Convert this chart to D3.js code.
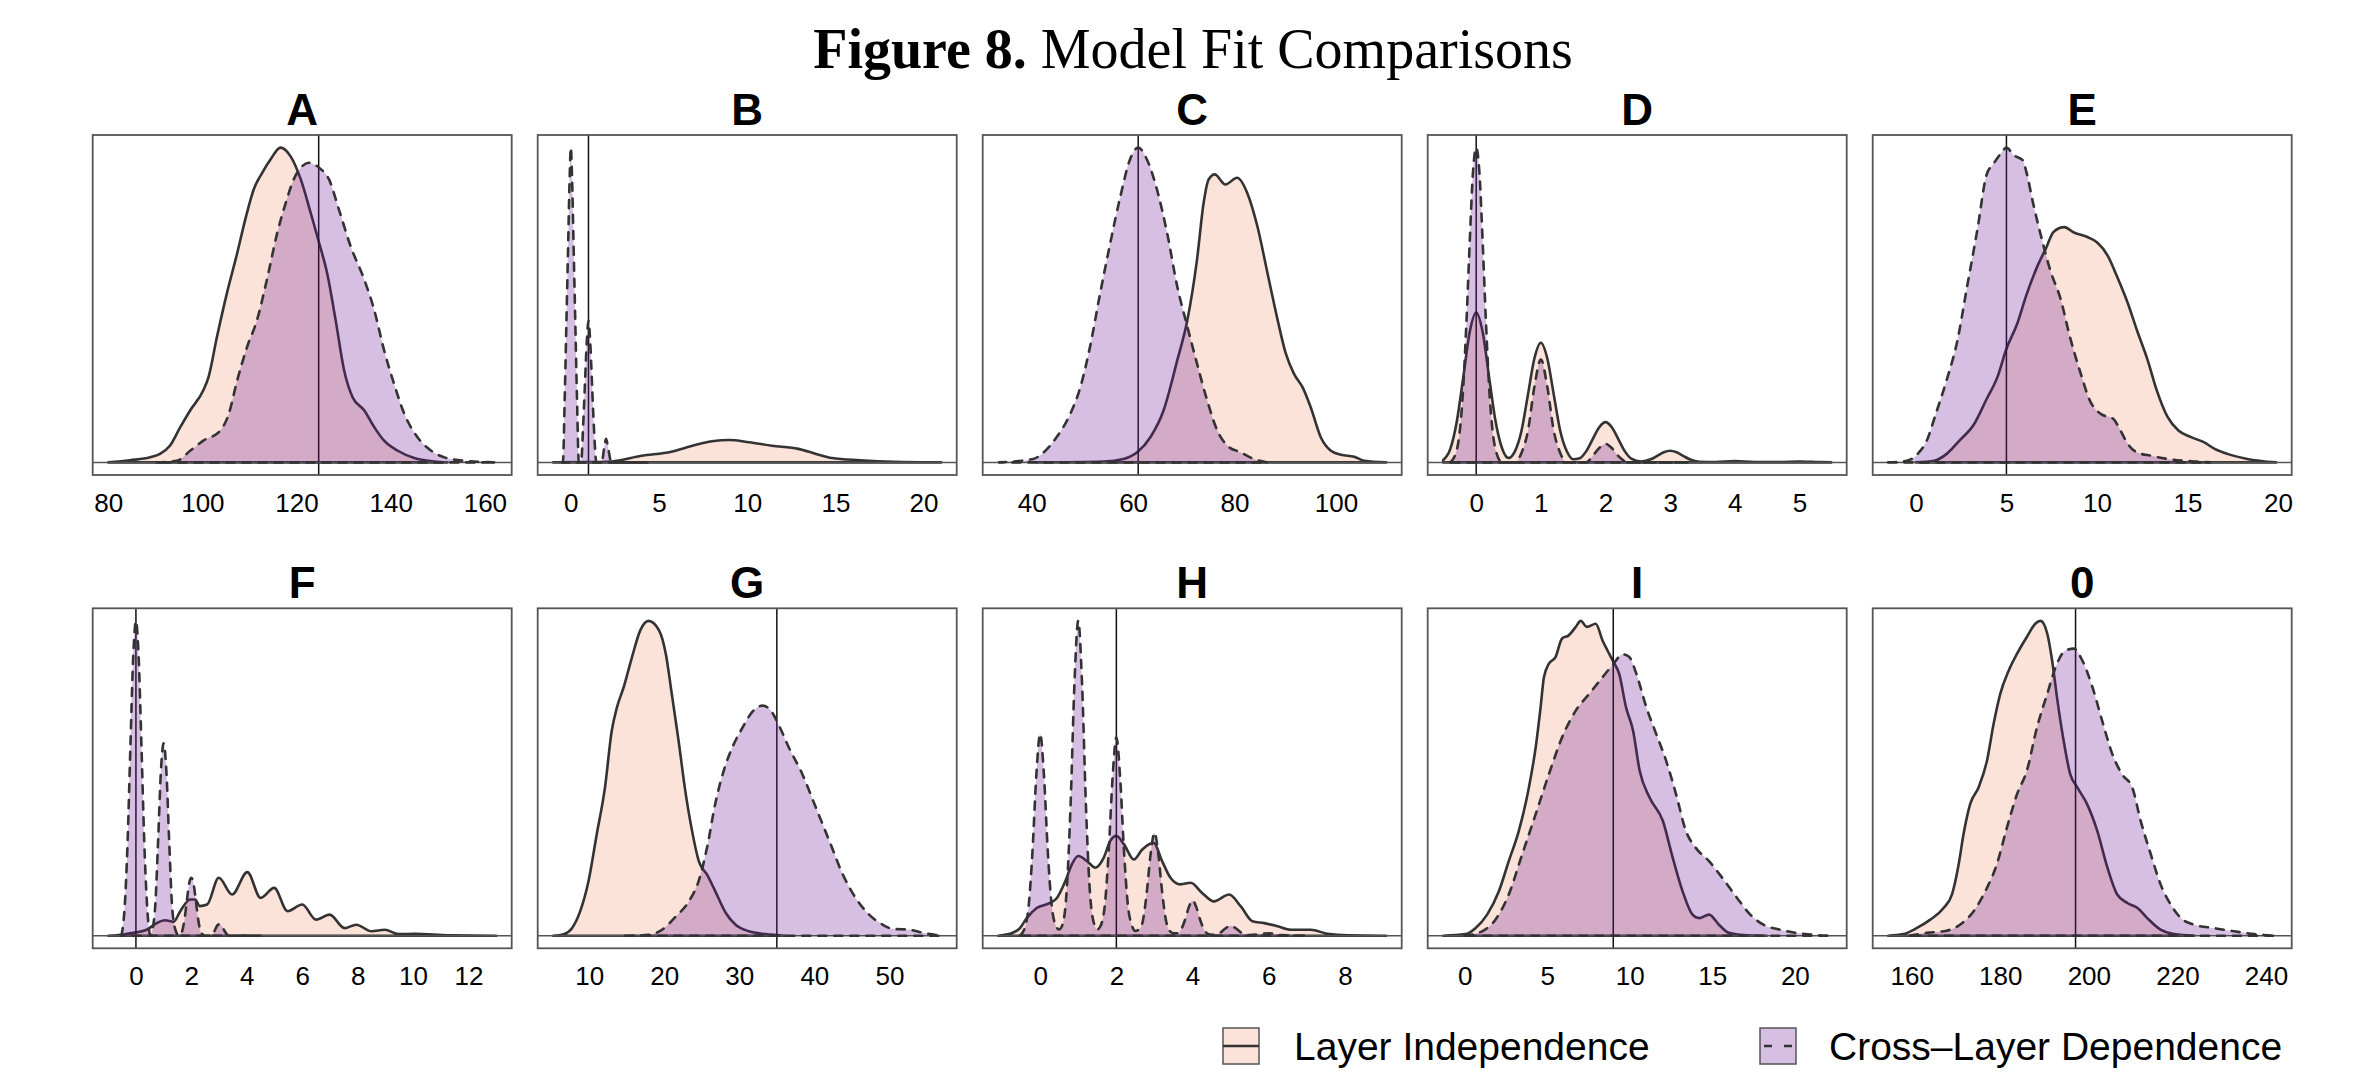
<!DOCTYPE html>
<html>
<head>
<meta charset="utf-8">
<title>Model Fit Comparisons</title>
<script src="https://d3js.org/d3.v7.min.js"></script>
<style>
  body { margin: 0; background: white; }
  svg { display: block; }
  .panel-title { font-family: "Liberation Sans", Arial, sans-serif; font-size: 44px; font-weight: bold; }
  .legend-text { font-family: "Liberation Sans", Arial, sans-serif; font-size: 39px; }
</style>
</head>
<body>
<svg id="fig" width="2365" height="1074"></svg>
<script>
// ---- data: [value, relative density] ----
var panelNames = ["A", "B", "C", "D", "E", "F", "G", "H", "I", "0"];
var truthValues = [124.7, 1, 61, 0, 5, 0, 35, 2, 9, 197];
var tickValues = [
  [80, 100, 120, 140, 160], [0, 5, 10, 15, 20], [40, 60, 80, 100], [0, 1, 2, 3, 4, 5], [0, 5, 10, 15, 20],
  [0, 2, 4, 6, 8, 10, 12], [10, 20, 30, 40, 50], [0, 2, 4, 6, 8], [0, 5, 10, 15, 20], [160, 180, 200, 220, 240]
];
var legendLabels = ["Layer Independence", "Cross\u2013Layer Dependence"];

var indA = [[80,0],[84.6,0.007],[88.9,0.016],[91,0.027],[93.1,0.053],[95.3,0.112],[97.4,0.165],[100.2,0.229],[101.3,0.271],[103.1,0.399],[105.2,0.537],[107.4,0.665],[109.1,0.771],[110.9,0.867],[112.7,0.92],[114.5,0.963],[116.6,1],[118.7,0.973],[120.9,0.899],[123,0.793],[124.8,0.697],[126.5,0.601],[128.3,0.452],[130.1,0.293],[131.9,0.207],[134.4,0.165],[136.5,0.112],[138.6,0.069],[141.5,0.037],[145,0.014],[149.3,0.003],[152,0]];
var crsA = [[90.3,0],[94.6,0.005],[97.4,0.037],[100.2,0.069],[103.8,0.101],[105.6,0.154],[107.4,0.261],[109.5,0.367],[111.6,0.452],[113.7,0.58],[115.9,0.729],[117.7,0.824],[119.4,0.899],[120.9,0.936],[122.6,0.952],[124.8,0.936],[126.9,0.899],[129,0.803],[131.5,0.686],[134.4,0.58],[136.5,0.484],[138.6,0.356],[140.7,0.25],[142.9,0.154],[145.7,0.08],[148.6,0.037],[151.4,0.016],[155.7,0.005],[162.4,0]];

var indB = [[-1,0],[1,0.001],[2.3,0.003],[4,0.021],[5.7,0.034],[6.9,0.053],[8,0.067],[9,0.071],[10.1,0.064],[11.4,0.053],[12.9,0.043],[13.9,0.027],[14.8,0.014],[16.4,0.007],[18.3,0.002],[21,0]];
var crsB = [[-0.55,0],[-0.45,0],[-0.35,0.2],[-0.25,0.45],[-0.15,0.7],[-0.07,0.9],[0,1],[0.07,0.9],[0.15,0.7],[0.25,0.45],[0.35,0.2],[0.45,0],[0.58,0],[0.7,0.12],[0.8,0.25],[0.9,0.38],[1,0.45],[1.1,0.38],[1.2,0.25],[1.3,0.12],[1.45,0],[1.75,0],[1.9,0.05],[2,0.075],[2.1,0.05],[2.3,0],[4.4,0]];

var indC = [[41,0],[54.2,0.003],[58.1,0.011],[60.8,0.032],[63.4,0.08],[66,0.165],[68.7,0.324],[70.7,0.452],[72.6,0.644],[73.9,0.824],[74.9,0.899],[76.1,0.915],[78.2,0.883],[80.5,0.904],[82.5,0.856],[84.5,0.75],[86.5,0.601],[88.5,0.452],[90.1,0.346],[91.7,0.282],[93.4,0.239],[95,0.176],[97,0.08],[99,0.037],[101,0.024],[103.6,0.018],[105.6,0.005],[109.9,0]];
var crsC = [[33.4,0],[40.3,0.011],[42,0.027],[44.9,0.08],[47.6,0.154],[49.6,0.239],[51.5,0.367],[53.5,0.537],[55.5,0.697],[57.5,0.846],[59.4,0.963],[61,1],[62.7,0.963],[64.7,0.867],[66.7,0.729],[68.7,0.559],[70.7,0.431],[72.6,0.314],[74.6,0.197],[76.6,0.101],[78.6,0.053],[81.2,0.032],[83.8,0.011],[86.5,0]];

var indD = [[-0.51,0.008],[-0.4,0.043],[-0.3,0.13],[-0.2,0.27],[-0.1,0.414],[0,0.476],[0.1,0.414],[0.2,0.27],[0.3,0.13],[0.4,0.045],[0.5,0.014],[0.6,0.036],[0.7,0.1],[0.8,0.215],[0.9,0.33],[1,0.38],[1.1,0.33],[1.2,0.215],[1.3,0.1],[1.4,0.036],[1.5,0.01],[1.6,0.013],[1.7,0.035],[1.8,0.073],[1.9,0.111],[2,0.128],[2.1,0.111],[2.2,0.073],[2.3,0.035],[2.4,0.012],[2.55,0.003],[2.7,0.01],[2.8,0.021],[2.9,0.032],[3,0.037],[3.1,0.032],[3.2,0.021],[3.3,0.01],[3.45,0.002],[3.7,0.001],[4,0.004],[4.3,0.001],[4.7,0.001],[5,0.003],[5.3,0.001],[5.49,0]];
var crsD = [[-0.4,0],[-0.3,0.04],[-0.2,0.24],[-0.15,0.45],[-0.1,0.7],[-0.05,0.92],[0,1],[0.05,0.92],[0.1,0.7],[0.15,0.45],[0.2,0.24],[0.3,0.04],[0.4,0],[0.6,0],[0.7,0.03],[0.8,0.1],[0.9,0.24],[1,0.327],[1.1,0.24],[1.2,0.1],[1.3,0.03],[1.4,0],[1.7,0],[1.8,0.02],[1.9,0.045],[2,0.059],[2.1,0.045],[2.2,0.02],[2.35,0],[3.3,0]];

var indE = [[0,0],[1,0.005],[1.7,0.027],[2.4,0.069],[3.2,0.12],[3.9,0.2],[4.5,0.27],[5,0.36],[5.6,0.44],[6.1,0.53],[6.7,0.62],[7.2,0.68],[7.6,0.73],[8.2,0.745],[8.7,0.729],[9.5,0.713],[10,0.697],[10.6,0.654],[11.1,0.59],[11.7,0.505],[12.2,0.42],[12.8,0.324],[13.3,0.229],[13.9,0.144],[14.5,0.101],[15.2,0.08],[15.9,0.064],[16.5,0.043],[17.2,0.027],[18.3,0.011],[19.9,0]];
var crsE = [[-1.53,0],[-0.5,0.005],[0.1,0.027],[0.6,0.069],[1.1,0.154],[1.7,0.261],[2.3,0.388],[2.8,0.548],[3.4,0.739],[3.9,0.91],[4.3,0.947],[4.7,0.979],[5,0.997],[5.4,0.973],[5.9,0.957],[6.1,0.92],[6.5,0.814],[7,0.697],[7.4,0.612],[8,0.516],[8.5,0.399],[9.1,0.282],[9.6,0.197],[10.2,0.154],[10.9,0.138],[11.3,0.101],[11.7,0.059],[12.2,0.032],[13,0.021],[13.9,0.011],[15.4,0.003],[16.3,0]];

var indF = [[-1,0],[-0.46,0.004],[-0.1,0.009],[0.39,0.019],[0.75,0.04],[1.05,0.049],[1.36,0.044],[1.6,0.078],[1.96,0.115],[2.14,0.115],[2.3,0.094],[2.57,0.099],[2.99,0.184],[3.47,0.131],[4.02,0.202],[4.5,0.12],[4.99,0.152],[5.47,0.078],[6,0.099],[6.5,0.051],[6.99,0.067],[7.53,0.024],[7.95,0.035],[8.5,0.014],[8.98,0.019],[9.47,0.005],[10.07,0.006],[11.3,0.001],[13,0]];
var crsF = [[-0.52,0],[-0.4,0.1],[-0.3,0.3],[-0.2,0.6],[-0.1,0.88],[0,1],[0.1,0.88],[0.2,0.6],[0.3,0.3],[0.4,0.1],[0.52,0],[0.6,0.02],[0.7,0.1],[0.8,0.3],[0.9,0.52],[1,0.611],[1.1,0.52],[1.2,0.3],[1.3,0.1],[1.42,0.02],[1.55,0],[1.65,0.01],[1.75,0.05],[1.85,0.12],[1.93,0.17],[2,0.184],[2.07,0.17],[2.15,0.12],[2.25,0.05],[2.35,0.01],[2.5,0],[2.75,0],[2.85,0.018],[2.95,0.034],[3.02,0.037],[3.1,0.03],[3.2,0.015],[3.35,0],[3.85,0],[4,0.003],[4.15,0],[4.5,0]];

var indG = [[5.2,0],[6.6,0.005],[7.7,0.024],[8.8,0.078],[9.9,0.173],[11,0.322],[12.1,0.471],[13,0.651],[13.7,0.726],[14.6,0.79],[15.7,0.885],[16.8,0.97],[17.9,1],[19.3,0.97],[20.2,0.896],[21,0.768],[21.9,0.62],[22.8,0.46],[23.7,0.333],[24.6,0.237],[25.7,0.194],[26.8,0.141],[28.2,0.072],[29.5,0.035],[31.3,0.014],[33.5,0.005],[36.2,0]];
var crsG = [[14.8,0],[17.9,0.003],[19.7,0.019],[21.5,0.06],[23.3,0.11],[24.6,0.175],[25.7,0.28],[26.8,0.42],[28,0.53],[29.1,0.6],[30.4,0.66],[31.7,0.71],[33.1,0.731],[34.2,0.715],[35.4,0.662],[36.6,0.598],[38.4,0.513],[40.2,0.407],[42,0.301],[43.8,0.194],[45.5,0.12],[47.3,0.067],[49.1,0.035],[50.4,0.022],[52.7,0.019],[54.5,0.009],[56.9,0]];

var indH = [[-1.1,0],[-0.8,0.006],[-0.53,0.024],[-0.35,0.056],[-0.09,0.088],[0.26,0.104],[0.44,0.12],[0.66,0.173],[0.83,0.226],[1,0.253],[1.23,0.237],[1.45,0.216],[1.67,0.248],[1.84,0.301],[2,0.317],[2.2,0.29],[2.46,0.242],[2.68,0.274],[2.98,0.295],[3.2,0.237],[3.42,0.184],[3.68,0.163],[3.95,0.168],[4.25,0.136],[4.56,0.109],[4.96,0.131],[5.26,0.094],[5.57,0.046],[5.88,0.04],[6.23,0.03],[6.58,0.019],[7.1,0.019],[7.54,0.006],[8.07,0.001],[9.08,0]];
var crsH = [[-0.53,0],[-0.4,0.026],[-0.3,0.096],[-0.2,0.27],[-0.1,0.51],[0,0.641],[0.1,0.51],[0.2,0.27],[0.3,0.1],[0.4,0.035],[0.5,0.02],[0.6,0.04],[0.7,0.15],[0.8,0.42],[0.9,0.8],[1,1],[1.1,0.8],[1.2,0.42],[1.3,0.15],[1.4,0.045],[1.5,0.02],[1.6,0.035],[1.7,0.1],[1.8,0.27],[1.9,0.5],[2,0.63],[2.1,0.5],[2.2,0.27],[2.3,0.1],[2.4,0.035],[2.5,0.015],[2.6,0.02],[2.7,0.05],[2.8,0.14],[2.9,0.26],[3,0.327],[3.1,0.26],[3.2,0.14],[3.3,0.05],[3.4,0.015],[3.5,0.008],[3.6,0.008],[3.7,0.02],[3.8,0.05],[3.9,0.09],[4,0.112],[4.1,0.09],[4.2,0.05],[4.3,0.02],[4.4,0.006],[4.5,0.003],[4.7,0.008],[4.85,0.022],[5,0.032],[5.15,0.022],[5.3,0.008],[5.5,0.002],[6,0.008],[6.3,0.002],[7,0]];

var indI = [[-1.3,0],[0.04,0.005],[0.65,0.024],[1.36,0.067],[2.07,0.141],[2.67,0.237],[3.28,0.333],[3.89,0.471],[4.3,0.598],[4.6,0.726],[4.8,0.821],[5.1,0.864],[5.5,0.885],[5.9,0.944],[6.3,0.954],[6.73,0.981],[7.03,1],[7.4,0.981],[7.94,0.991],[8.35,0.938],[8.65,0.906],[9.02,0.869],[9.36,0.832],[9.77,0.726],[10.2,0.651],[10.6,0.524],[11.2,0.439],[12,0.365],[12.6,0.248],[13.2,0.141],[13.8,0.067],[14.2,0.056],[14.8,0.067],[15.4,0.035],[16,0.009],[17.1,0.001],[18.3,0]];
var crsI = [[0,0],[1.05,0.014],[1.86,0.051],[2.67,0.131],[3.48,0.258],[4.3,0.386],[5.1,0.513],[5.9,0.63],[6.73,0.715],[7.54,0.768],[8.35,0.821],[9.02,0.864],[9.56,0.894],[9.97,0.885],[10.4,0.832],[11,0.726],[11.6,0.641],[12.2,0.556],[12.8,0.45],[13.4,0.333],[14,0.279],[14.8,0.237],[15.6,0.184],[16.5,0.12],[17.3,0.067],[18.1,0.035],[19.1,0.019],[20.1,0.009],[21.1,0.003],[22.2,0]];

var ind0 = [[154.7,0],[158.1,0.005],[161.1,0.024],[164.2,0.051],[167.2,0.088],[169.1,0.131],[170.6,0.226],[171.7,0.322],[173.2,0.418],[175.1,0.471],[177,0.556],[178.5,0.673],[180,0.768],[181.9,0.842],[183.8,0.896],[186,0.949],[187.9,0.991],[189.1,1],[190.6,0.96],[191.7,0.875],[192.8,0.758],[194.3,0.62],[195.8,0.513],[197.4,0.471],[199.6,0.418],[201.9,0.333],[204.2,0.216],[206.4,0.131],[208.7,0.104],[211,0.088],[213.2,0.056],[216.2,0.019],[219.2,0.005],[223.8,0]];
var crs0 = [[159.6,0],[163.4,0.009],[167.9,0.016],[170.9,0.035],[174,0.078],[177,0.152],[179.2,0.226],[181.5,0.343],[183.8,0.45],[186,0.524],[188.3,0.662],[190.6,0.768],[192.8,0.864],[194.7,0.906],[196.6,0.912],[198.5,0.875],[200.8,0.79],[203,0.683],[205.3,0.577],[207.5,0.513],[209.8,0.471],[211.7,0.365],[214,0.258],[216.2,0.163],[218.5,0.099],[220.8,0.056],[223.8,0.035],[228.3,0.024],[232.8,0.014],[237.4,0.005],[242.3,0]];

var indSeries = [indA, indB, indC, indD, indE, indF, indG, indH, indI, ind0];
var crsSeries = [crsA, crsB, crsC, crsD, crsE, crsF, crsG, crsH, crsI, crs0];

// ---- layout ----
var width = 2365, height = 1074;
var boxW = 419, boxH = 340;
var colStep = 445, left0 = 92.7;
var rowTops = [135, 608.3];

var peach = "rgb(252,227,218)";
var purple = "rgb(108,26,151)";
var purpleAlpha = 0.28;
var lineCol = "#333";
var lineW = 2.6;

var svg = d3.select("#fig");
svg.append("rect").attr("width", width).attr("height", height).attr("fill", "white");

// main title
var title = svg.append("text")
  .attr("x", 1193).attr("y", 68)
  .attr("text-anchor", "middle")
  .style("font-family", "'Liberation Serif', 'DejaVu Serif', serif")
  .style("font-size", "56px");
title.append("tspan").style("font-weight", "bold").text("Figure 8.");
title.append("tspan").text(" Model Fit Comparisons");

var defs = svg.append("defs");

panelNames.forEach(function(name, i){
  var col = i % 5, row = Math.floor(i / 5);
  var x0 = left0 + col * colStep, y0 = rowTops[row];
  var ind = indSeries[i], crs = crsSeries[i];
  var all = ind.concat(crs);

  var ext = d3.extent(all, function(d){ return d[0]; });
  var pad = (ext[1] - ext[0]) * 0.04;
  var x = d3.scaleLinear().domain([ext[0] - pad, ext[1] + pad]).range([x0, x0 + boxW]);
  var ymax = d3.max(all, function(d){ return d[1]; });
  var y = d3.scaleLinear().domain([-0.04 * ymax, 1.04 * ymax]).range([y0 + boxH, y0]);

  var area = d3.area()
    .x(function(d){ return x(d[0]); })
    .y0(y(0))
    .y1(function(d){ return y(d[1]); })
    .curve(d3.curveMonotoneX);

  defs.append("clipPath").attr("id", "clip" + i)
    .append("rect").attr("x", x0).attr("y", y0).attr("width", boxW).attr("height", boxH);

  var g = svg.append("g").attr("clip-path", "url(#clip" + i + ")");

  // layer independence
  g.append("path").attr("d", area(ind))
    .attr("fill", peach)
    .attr("stroke", lineCol).attr("stroke-width", lineW).attr("stroke-linejoin", "round");

  // true value + zero line
  g.append("line")
    .attr("x1", x(truthValues[i])).attr("x2", x(truthValues[i]))
    .attr("y1", y0).attr("y2", y0 + boxH)
    .attr("stroke", "#111").attr("stroke-width", 1.5);
  g.append("line")
    .attr("x1", x0).attr("x2", x0 + boxW)
    .attr("y1", y(0)).attr("y2", y(0))
    .attr("stroke", "#555").attr("stroke-width", 1.5);

  // cross-layer dependence
  g.append("path").attr("d", area(crs))
    .attr("fill", purple).attr("fill-opacity", purpleAlpha)
    .attr("stroke", "none");
  g.append("path").attr("d", area(crs))
    .attr("fill", "none")
    .attr("stroke", lineCol).attr("stroke-width", lineW)
    .attr("stroke-dasharray", "8,8").attr("stroke-linecap", "round");

  // frame
  svg.append("rect")
    .attr("x", x0).attr("y", y0).attr("width", boxW).attr("height", boxH)
    .attr("fill", "none").attr("stroke", "#555").attr("stroke-width", 1.8);

  // panel title
  svg.append("text").attr("class", "panel-title")
    .attr("x", x0 + boxW / 2).attr("y", y0 - 10.5)
    .attr("text-anchor", "middle")
    .text(name);

  // x axis labels only
  var axis = svg.append("g")
    .attr("transform", "translate(0," + (y0 + boxH) + ")")
    .call(d3.axisBottom(x).tickValues(tickValues[i]).tickFormat(d3.format("d"))
      .tickSize(0).tickPadding(18.2));
  axis.select(".domain").remove();
  axis.selectAll("text")
    .style("font-family", "'Liberation Sans', Arial, sans-serif")
    .style("font-size", "26px")
    .attr("fill", "#000");
});

// ---- legend ----
var leg = svg.append("g");
leg.append("rect").attr("x", 1223).attr("y", 1028).attr("width", 36).attr("height", 36)
  .attr("fill", peach).attr("stroke", "#555").attr("stroke-width", 1.5);
leg.append("line").attr("x1", 1223).attr("x2", 1259).attr("y1", 1046).attr("y2", 1046)
  .attr("stroke", lineCol).attr("stroke-width", lineW);
leg.append("text").attr("class", "legend-text").attr("x", 1294).attr("y", 1060).text(legendLabels[0]);

leg.append("rect").attr("x", 1760).attr("y", 1028).attr("width", 36).attr("height", 36)
  .attr("fill", purple).attr("fill-opacity", purpleAlpha).attr("stroke", "#555").attr("stroke-width", 1.5);
leg.append("line").attr("x1", 1764).attr("x2", 1792).attr("y1", 1046).attr("y2", 1046)
  .attr("stroke", lineCol).attr("stroke-width", lineW)
  .attr("stroke-dasharray", "8,12");
leg.append("text").attr("class", "legend-text").attr("x", 1829).attr("y", 1060).text(legendLabels[1]);
</script>
</body>
</html>
